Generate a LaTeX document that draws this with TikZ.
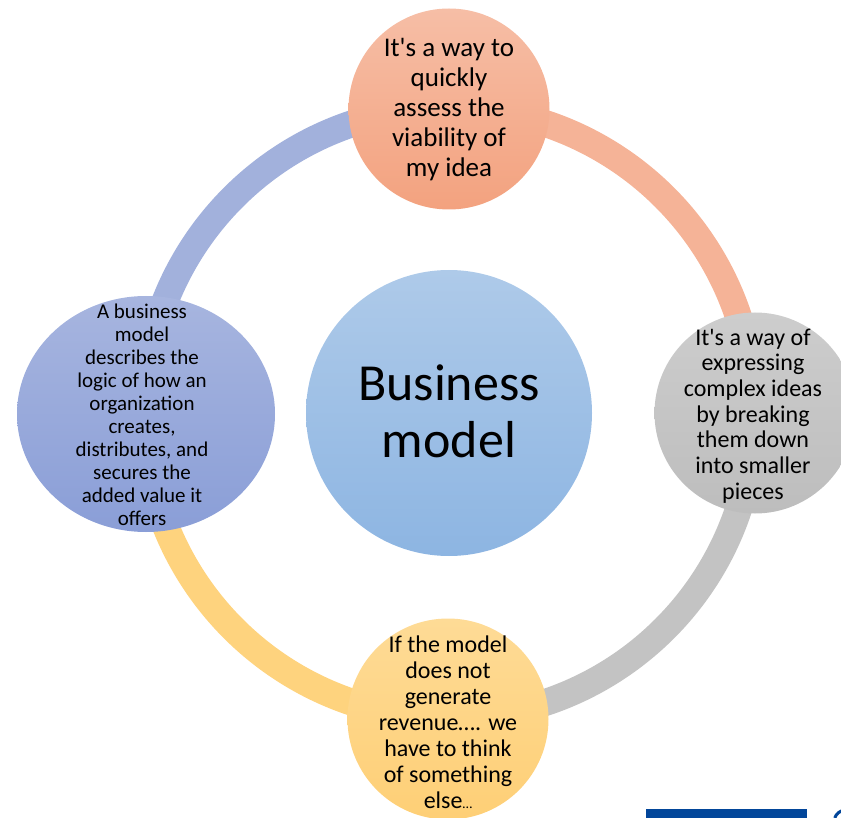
\documentclass[tikz,border=0pt]{standalone}
\usepackage{fontspec}
\setmainfont{Carlito}[Ligatures=TeXOff]
\usetikzlibrary{shapes.geometric}
\definecolor{ringblue}{HTML}{A2B1DC}
\definecolor{ringsalmon}{HTML}{F5B397}
\definecolor{ringgray}{HTML}{C3C3C3}
\definecolor{ringyellow}{HTML}{FED37E}
\definecolor{logoblue}{HTML}{02469A}
\definecolor{cenA}{HTML}{AECAE9}
\definecolor{cenB}{HTML}{8DB5E2}
\definecolor{topA}{HTML}{F6BEA6}
\definecolor{topB}{HTML}{F3A27F}
\definecolor{rgtA}{HTML}{CDCDCD}
\definecolor{rgtB}{HTML}{BDBDBD}
\definecolor{botA}{HTML}{FEDB96}
\definecolor{botB}{HTML}{FECF76}
\definecolor{lftA}{HTML}{A7B5DF}
\definecolor{lftB}{HTML}{8A9ED7}
\tikzset{
  ring/.style={line width=27pt},
  bubble/.style={circle, inner sep=0pt, draw=none},
  txt/.style={align=center, text=black, inner sep=0pt},
}
\begin{document}
\begin{tikzpicture}[x=1pt,y=1pt]
\useasboundingbox (0,0) rectangle (841,-818);
\clip (0,0) rectangle (841,-818);
\coordinate (o) at (449,-413);
% ring
\draw[ring, ringsalmon] (o) ++(90:305) arc[start angle=90, end angle=0, radius=305];
\draw[ring, ringgray] (o) ++(0:305) arc[start angle=0, end angle=-90, radius=305];
\draw[ring, ringyellow] (o) ++(-90:305) arc[start angle=-90, end angle=-180, radius=305];
\draw[ring, ringblue] (o) ++(180:305) arc[start angle=180, end angle=90, radius=305];
% circles
\node[bubble, minimum size=286pt, top color=cenA, bottom color=cenB] (center) at (o) {};
\node[bubble, minimum size=201pt, top color=topA, bottom color=topB] (top) at (449,-109) {};
\node[bubble, minimum size=201pt, top color=rgtA, bottom color=rgtB] (right) at (755,-413) {};
\node[bubble, minimum size=201pt, top color=botA, bottom color=botB] (bottom) at (448,-719) {};
\node[ellipse, inner sep=0pt, draw=none, minimum width=258pt, minimum height=236pt, top color=lftA, bottom color=lftB] (left) at (146,-414) {};
% texts
\node[txt, font=\fontsize{52}{57}\selectfont] (centert) at (449,-411) {Business\\model};
\node[txt, font=\fontsize{27}{30}\selectfont] (topt) at (449,-110) {It's a way to\\quickly\\assess the\\viability of\\my idea};
\node[txt, font=\fontsize{24}{25.7}\selectfont] (rightt) at (753,-416) {It's a way of\\expressing\\complex ideas\\by breaking\\them down\\into smaller\\pieces};
\node[txt, font=\fontsize{24}{26}\selectfont] (bottomt) at (448,-722) {If the model\\does not\\generate\\revenue…. we\\have to think\\of something\\else{\fontsize{14}{14}\selectfont…}};
\node[txt, font=\fontsize{21}{23}\selectfont] (leftt) at (142,-415) {A business\\model\\describes the\\logic of how an\\organization\\creates,\\distributes, and\\secures the\\added value it\\offers};
% logo fragments
\fill[logoblue] (646,-809) rectangle (807,-818);
\draw[logoblue, line width=3pt] (846,-822) ++(160:12) arc[start angle=160, end angle=100, radius=12];
\end{tikzpicture}
\end{document}
